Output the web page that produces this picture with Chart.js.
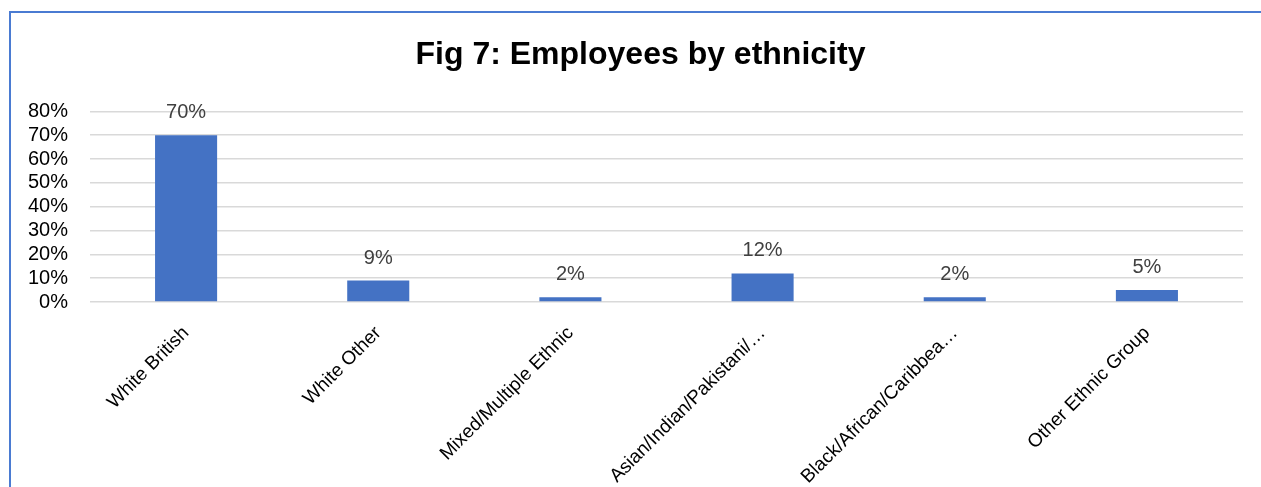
<!DOCTYPE html>
<html>
<head>
<meta charset="utf-8">
<script src="https://cdn.jsdelivr.net/npm/chart.js@4"></script>
<style>
  html, body { margin: 0; padding: 0; background: #fff; }
  #wrap { position: relative; width: 1261px; height: 487px; overflow: hidden; }
  #frame {
    position: absolute; left: 9px; top: 11px; right: -10px; bottom: -10px;
    border-top: 2px solid #4a7bd2; border-left: 2px solid #4a7bd2;
    pointer-events: none;
  }
  canvas { position: absolute; left: 0; top: 0; }
</style>
</head>
<body>
<div id="wrap">
  <canvas id="ethnicityChart" width="1261" height="487"></canvas>
  <div id="frame"></div>
</div>
<script>
// ===== Employees by ethnicity =====

const CATEGORIES = [
  'White British',
  'White Other',
  'Mixed/Multiple Ethnic',
  'Asian/Indian/Pakistani/…',
  'Black/African/Caribbea…',
  'Other Ethnic Group',
];
const SHARE_PCT = [70, 9, 2, 12, 2, 5];
const Y_TICKS = [0, 10, 20, 30, 40, 50, 60, 70, 80];

const FONT = "'Liberation Sans', Arial, sans-serif";
const BAR_COLOR = '#4472c4';
const GRID_COLOR = '#d9d9d9';

// value labels above each bar
const barValueLabels = {
  id: 'barValueLabels',
  afterDatasetsDraw(chart) {
    const { ctx } = chart;
    const meta = chart.getDatasetMeta(0);
    ctx.save();
    ctx.font = `20px ${FONT}`;
    ctx.fillStyle = '#404040';
    ctx.textAlign = 'center';
    ctx.textBaseline = 'alphabetic';
    meta.data.forEach((bar, i) => {
      ctx.fillText(SHARE_PCT[i] + '%', bar.x, bar.y - 17);
    });
    ctx.restore();
  },
};

const ctx = document.getElementById('ethnicityChart').getContext('2d');
new Chart(ctx, {
  type: 'bar',
  data: {
    labels: CATEGORIES,
    datasets: [{
      data: SHARE_PCT,
      backgroundColor: BAR_COLOR,
      borderWidth: 0,
      categoryPercentage: 1,
      barPercentage: 0.323,
    }],
  },
  options: {
    responsive: false,
    animation: false,
    layout: { padding: { left: 20, right: 0, top: 0, bottom: 0 } },
    scales: {
      x: {
        grid: { display: false },
        border: { display: false },
        ticks: {
          color: '#000',
          font: { family: FONT, size: 19 },
          minRotation: 45,
          maxRotation: 45,
          autoSkip: false,
          padding: 12,
        },
        afterFit: (scale) => { scale.height = 185; },
      },
      y: {
        min: 0,
        max: 80,
        afterBuildTicks: (scale) => {
          scale.ticks = Y_TICKS.map((v) => ({ value: v }));
        },
        grid: { color: GRID_COLOR, lineWidth: 1.5, drawTicks: false },
        border: { display: false },
        ticks: {
          color: '#000',
          font: { family: FONT, size: 20 },
          padding: 22,
          autoSkip: false,
          callback: (v) => v + '%',
        },
        afterFit: (scale) => { scale.width = 70; },
      },
      // empty strip on the right edge of the plot
      yRight: {
        position: 'right',
        grid: { display: false },
        border: { display: false },
        ticks: { display: false },
        afterFit: (scale) => { scale.width = 18; },
      },
    },
    plugins: {
      legend: { display: false },
      tooltip: { enabled: false },
      title: {
        display: true,
        text: 'Fig 7: Employees by ethnicity',
        color: '#000',
        font: { family: FONT, size: 32, weight: 'bold', lineHeight: 1.2 },
        padding: { top: 36, bottom: 37 },
      },
    },
  },
  plugins: [barValueLabels],
});
</script>
</body>
</html>
